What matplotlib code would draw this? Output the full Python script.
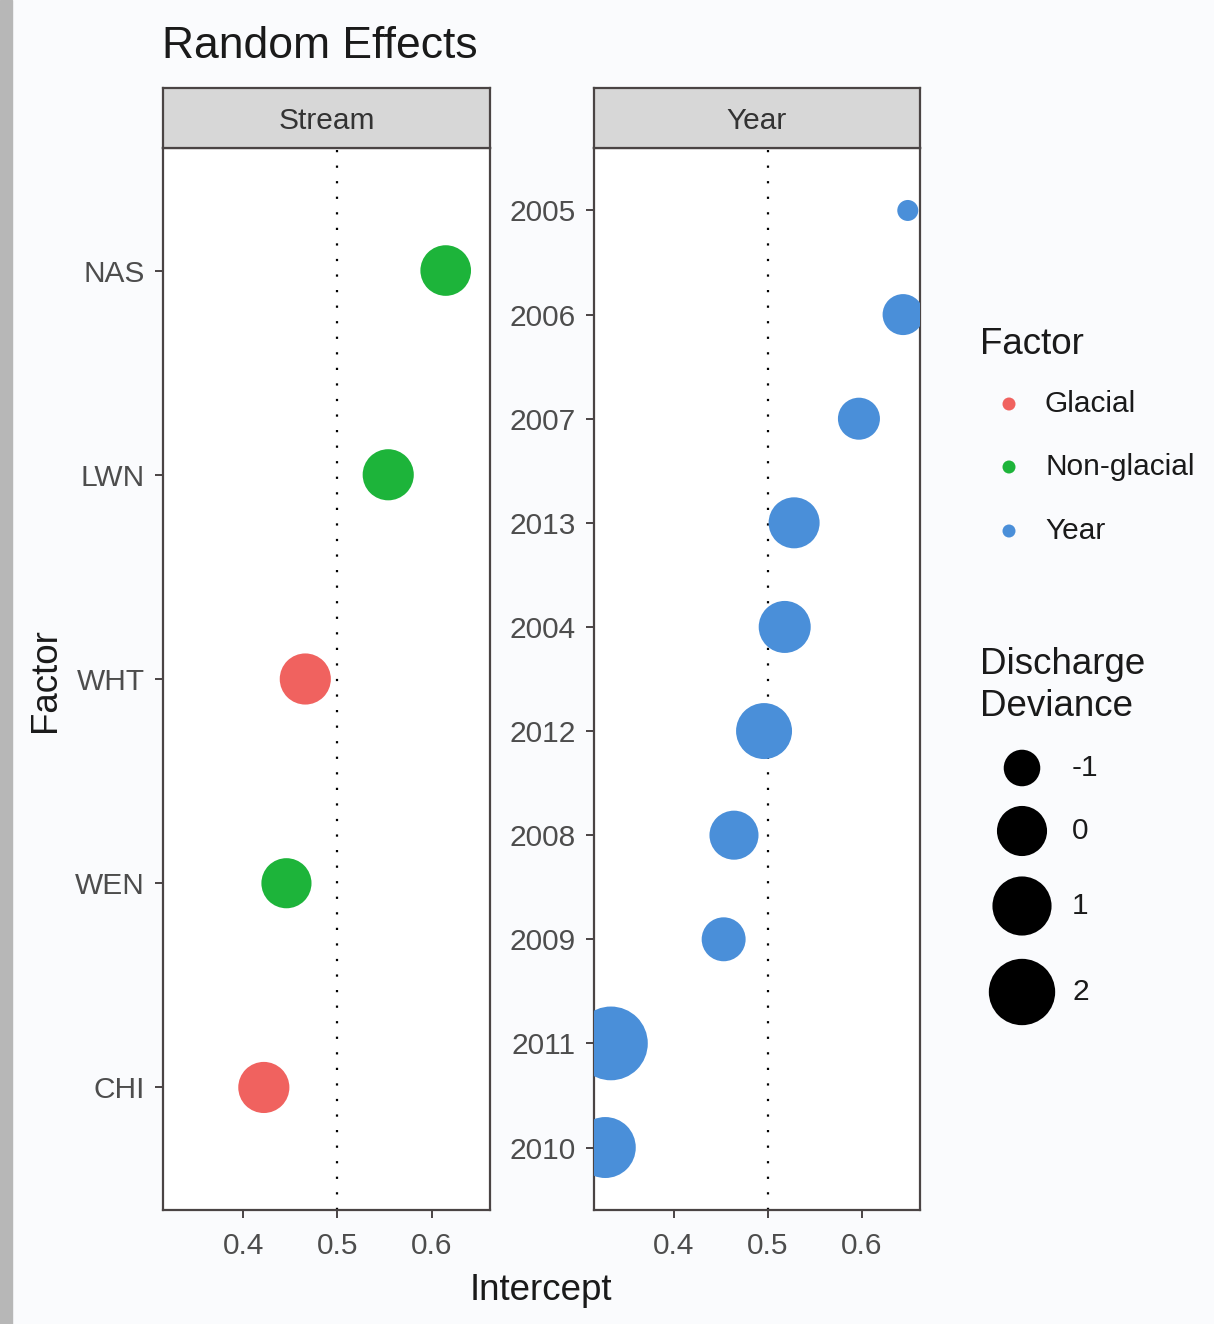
import numpy as np
import matplotlib
matplotlib.use("Agg")
import matplotlib.pyplot as plt
from matplotlib.patches import Rectangle

# ---------------- data ----------------
stream_names = ["NAS", "LWN", "WHT", "WEN", "CHI"]
stream_intercept = [0.615, 0.554, 0.466, 0.446, 0.422]
stream_factor = ["Non-glacial", "Non-glacial", "Glacial", "Non-glacial", "Glacial"]
stream_deviance = [0.05, 0.1, 0.1, 0.0, 0.1]

year_names = ["2005", "2006", "2007", "2013", "2004", "2012", "2008", "2009", "2011", "2010"]
year_intercept = [0.649, 0.644, 0.597, 0.528, 0.518, 0.496, 0.464, 0.453, 0.333, 0.327]
year_deviance = [-1.4, -0.74, -0.67, 0.09, 0.19, 0.62, -0.1, -0.53, 3.2, 1.24]

factor_levels = ["Glacial", "Non-glacial", "Year"]
factor_colors = {"Glacial": "#F0625F", "Non-glacial": "#1DB43A", "Year": "#4A8FD9"}
legend_deviance = [-1, 0, 1, 2]
x_ticks = [0.4, 0.5, 0.6]
x_limits = (0.315, 0.662)

# ---------------- setup ----------------
W, H, DPI = 1214, 1324, 100
plt.rcParams['font.family'] = ['Liberation Sans', 'DejaVu Sans']
fig = plt.figure(figsize=(W / DPI, H / DPI), dpi=DPI)
fig.patch.set_facecolor("#FAFBFD")

def px_axes(x0, y0, x1, y1, **kw):
    return fig.add_axes([x0 / W, 1 - y1 / H, (x1 - x0) / W, (y1 - y0) / H], **kw)

def diam_px(v):
    v = np.asarray(v, dtype=float)
    return 21 + 24.6 * np.sqrt(np.clip(v + 1.4, 0, None))

def marker_area(v):
    return (diam_px(v) * 72.0 / DPI) ** 2

spine_col = "#4A4444"
tick_lab_col = "#4D4D4D"
TICK_FS = 21.5
TITLE_FS = 26.5

def style_panel(ax, names):
    ax.set_facecolor("white")
    ax.set_xlim(*x_limits)
    n = len(names)
    ax.set_ylim(n - 0.4, -0.6)
    ax.set_yticks(range(n))
    ax.set_yticklabels(names)
    ax.set_xticks(x_ticks)
    ax.set_xticklabels([f"{t:.1f}" for t in x_ticks])
    ax.tick_params(length=6, width=1.4, color=spine_col, labelsize=TICK_FS,
                   labelcolor=tick_lab_col)
    ax.tick_params(axis="x", pad=10)
    ax.tick_params(axis="y", pad=7)
    for s in ax.spines.values():
        s.set_color(spine_col)
        s.set_linewidth(1.6)
    ax.axvline(0.5, color="black", lw=1.6, linestyle=(0, (1, 6)), zorder=1)

def strip(x0, x1, label):
    sa = px_axes(x0, 88, x1, 148)
    sa.set_facecolor("#D7D7D7")
    sa.set_xticks([]); sa.set_yticks([])
    for s in sa.spines.values():
        s.set_color(spine_col)
        s.set_linewidth(1.6)
    sa.text(0.5, 0.45, label, ha="center", va="center", fontsize=TICK_FS,
            color="#333333", transform=sa.transAxes)

# ---------------- panels ----------------
ax1 = px_axes(163, 148, 490, 1210)
style_panel(ax1, stream_names)
ax1.scatter(stream_intercept, range(len(stream_names)), s=marker_area(stream_deviance),
            c=[factor_colors[f] for f in stream_factor], edgecolors="none", zorder=3)
strip(163, 490, "Stream")

ax2 = px_axes(594, 148, 920, 1210)
style_panel(ax2, year_names)
ax2.scatter(year_intercept, range(len(year_names)), s=marker_area(year_deviance),
            c=factor_colors["Year"], edgecolors="none", zorder=3)
strip(594, 920, "Year")

# ---------------- overlay for titles & legends ----------------
ov = fig.add_axes([0, 0, 1, 1], zorder=10)
ov.set_xlim(0, W); ov.set_ylim(H, 0)
ov.axis("off")
ov.patch.set_alpha(0)
ov.add_patch(Rectangle((0, 0), 12, H, color="#B7B7B7", zorder=0))

ov.text(162, 46, "Random Effects", ha="left", va="center", fontsize=32, color="#1A1A1A")
ov.text(541, 1291, "Intercept", ha="center", va="center", fontsize=TITLE_FS, color="#1A1A1A")
ov.text(45, 680, "Factor", ha="center", va="center", rotation=90, fontsize=TITLE_FS,
        color="#1A1A1A")

# Factor legend
ov.text(980, 344, "Factor", ha="left", va="center", fontsize=TITLE_FS, color="#1A1A1A")
fac_y = [404, 467, 531]
ov.scatter([1009] * len(factor_levels), fac_y, s=(13 * 72.0 / DPI) ** 2,
           c=[factor_colors[f] for f in factor_levels], edgecolors="none")
for lab, y in zip(factor_levels, fac_y):
    ov.text(1045, y, lab, ha="left", va="center", fontsize=TICK_FS, color="#1A1A1A")

# Size legend
ov.text(980, 664, "Discharge", ha="left", va="center", fontsize=TITLE_FS, color="#1A1A1A")
ov.text(980, 706, "Deviance", ha="left", va="center", fontsize=TITLE_FS, color="#1A1A1A")
size_y = [768, 831, 906, 992]
ov.scatter([1022] * len(legend_deviance), size_y, s=marker_area(legend_deviance),
           c="black", edgecolors="none")
for v, y in zip(legend_deviance, size_y):
    ov.text(1072, y, str(v), ha="left", va="center", fontsize=TICK_FS, color="#1A1A1A")

fig.savefig("out.png", dpi=DPI, facecolor=fig.get_facecolor())
